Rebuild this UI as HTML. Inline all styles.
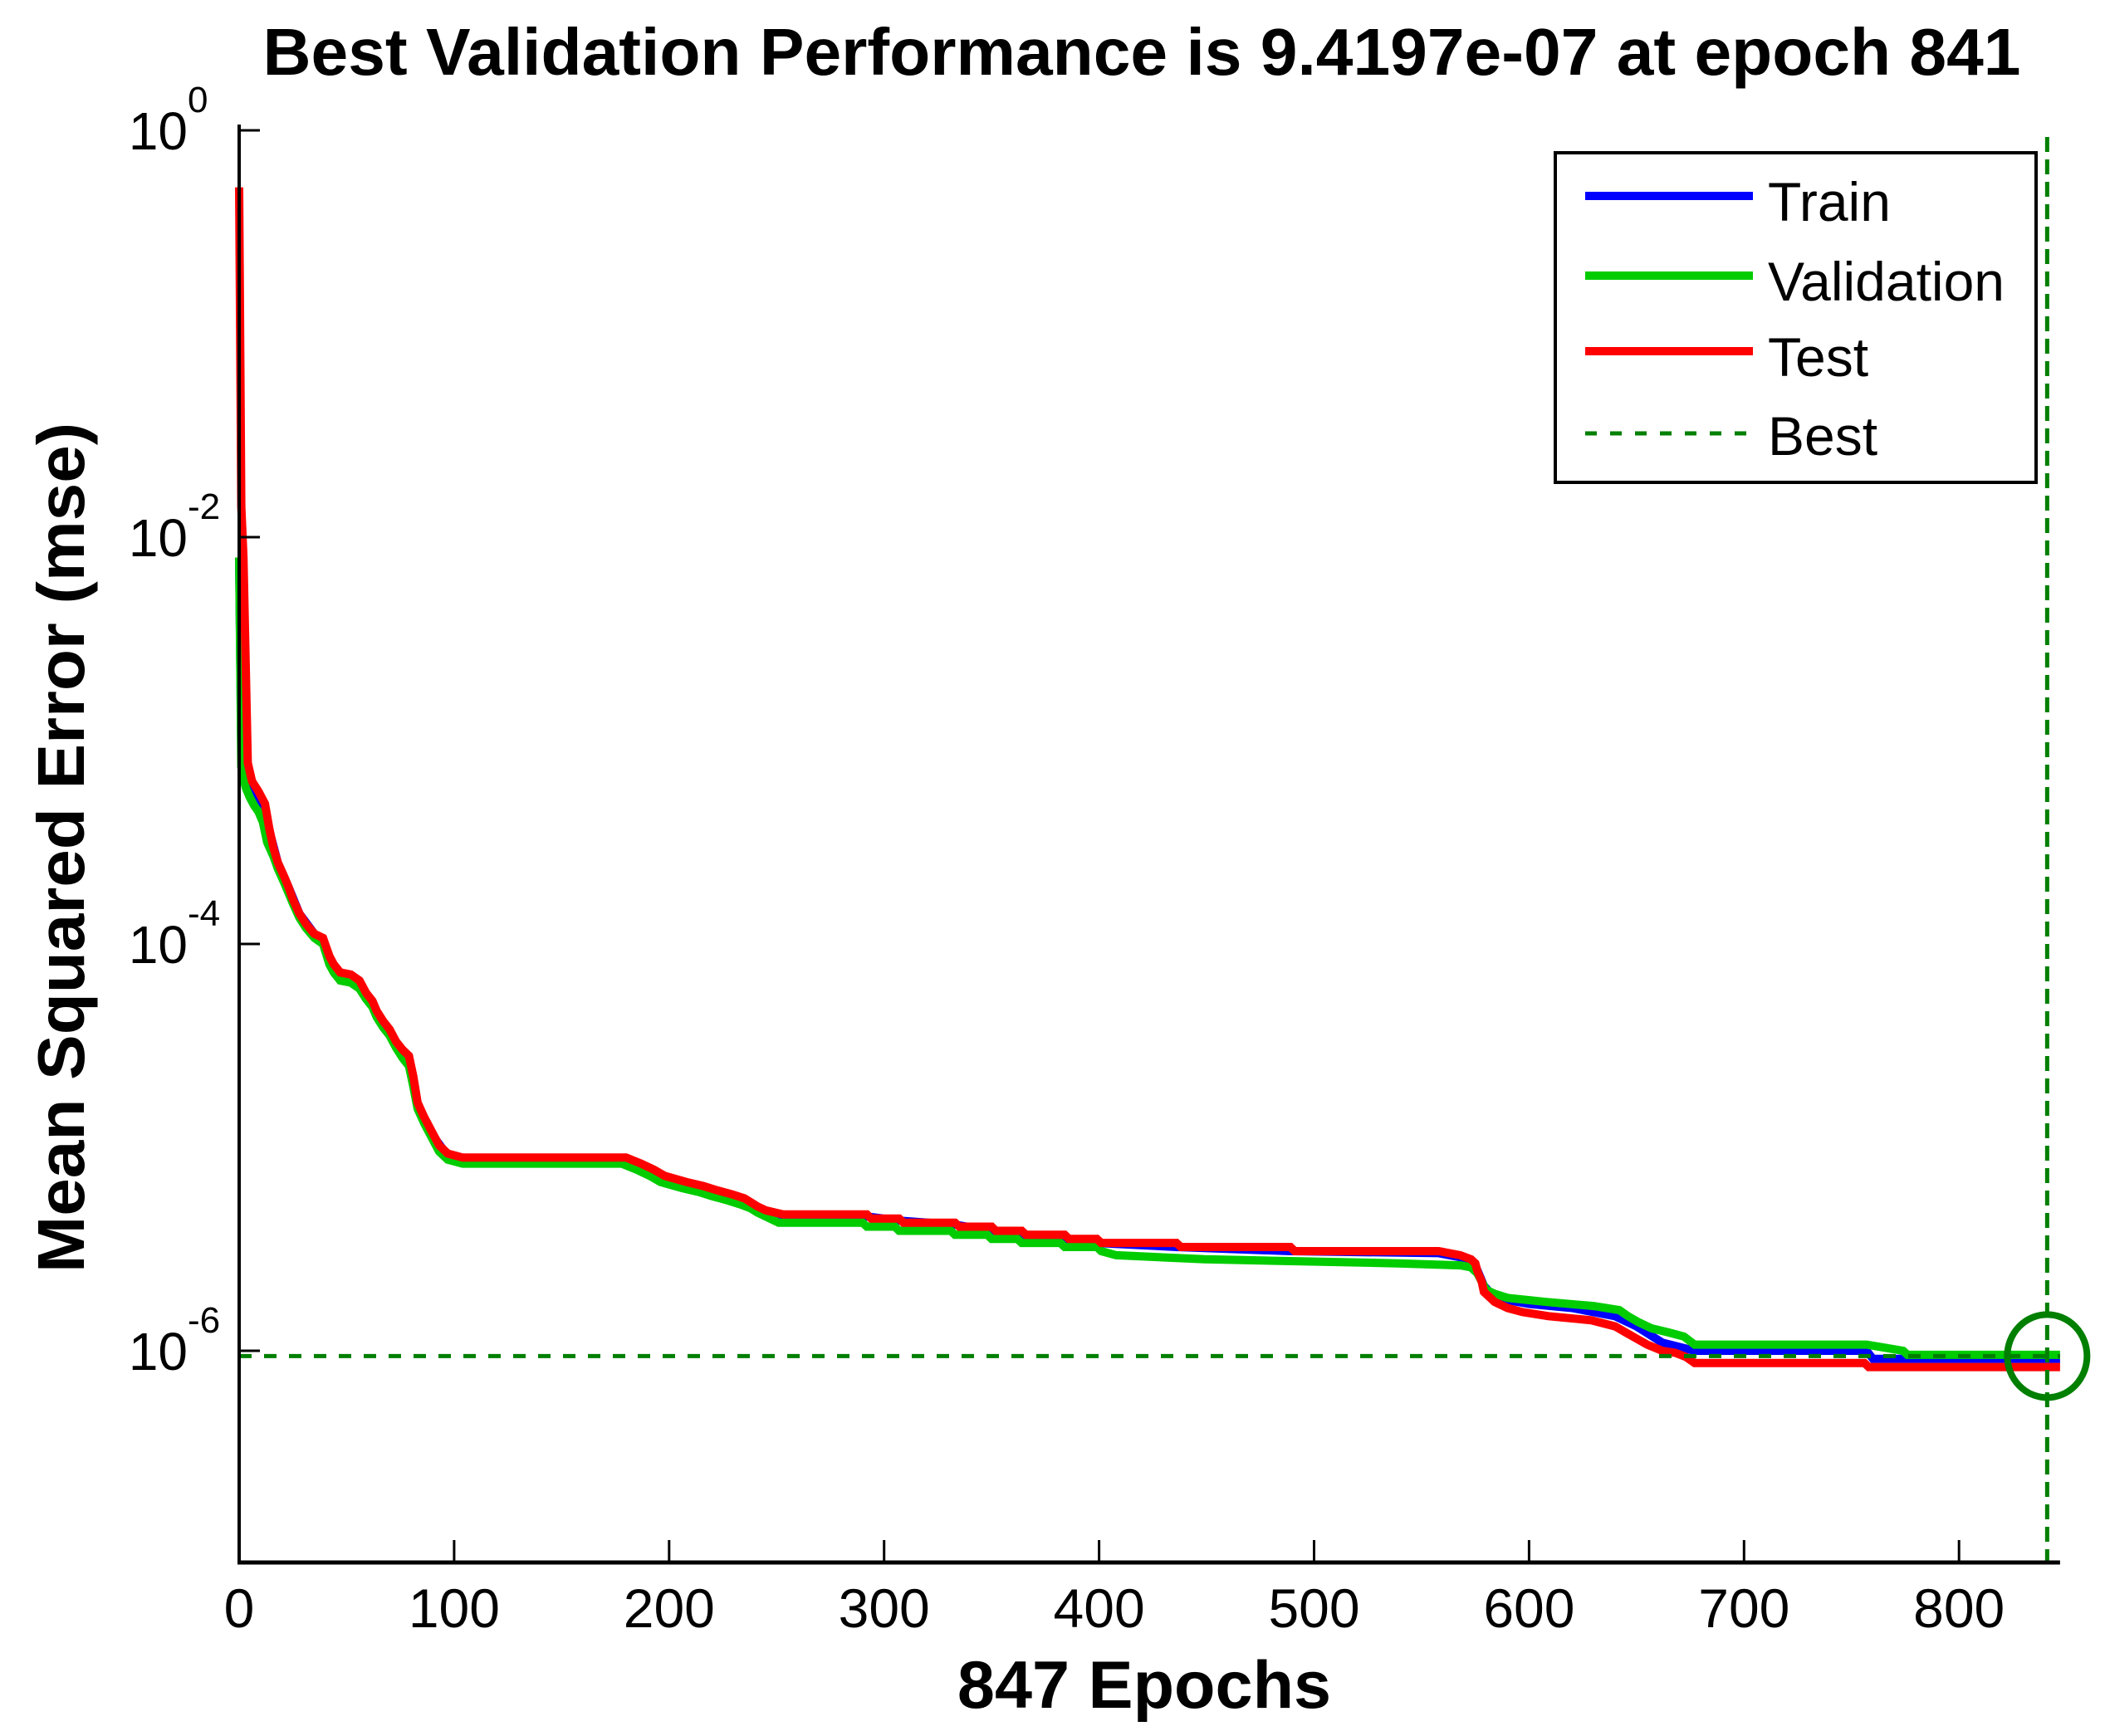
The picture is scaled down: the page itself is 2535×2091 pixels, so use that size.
<!DOCTYPE html>
<html><head><meta charset="utf-8"><style>
html,body{margin:0;padding:0;background:#fff;}
svg{display:block;}
text{font-family:"Liberation Sans",Arial,sans-serif;}
</style></head><body>
<svg id="chart" width="2535" height="2091" viewBox="0 0 2535 2091" xmlns="http://www.w3.org/2000/svg">
<rect width="2535" height="2091" fill="#fff"/>
<text x="1375" y="90" font-size="80" font-weight="bold" text-anchor="middle" textLength="2117" lengthAdjust="spacingAndGlyphs">Best Validation Performance is 9.4197e-07 at epoch 841</text>
<text x="1378" y="2057" font-size="81" font-weight="bold" text-anchor="middle">847 Epochs</text>
<text transform="translate(101,1021) rotate(-90)" font-size="80" font-weight="bold" text-anchor="middle" textLength="1024" lengthAdjust="spacingAndGlyphs">Mean Squared Error  (mse)</text>
<g id="plot"></g>
<g id="axes"></g>
<g id="legend">
  <rect x="1873" y="184" width="579" height="397" fill="#fff" stroke="#000" stroke-width="4"/>
  <line x1="1909" y1="236" x2="2111" y2="236" stroke="#0000ff" stroke-width="10"/>
  <text x="2129" y="266" font-size="66">Train</text>
  <line x1="1909" y1="332" x2="2111" y2="332" stroke="#00cc00" stroke-width="10"/>
  <text x="2129" y="362" font-size="66">Validation</text>
  <line x1="1909" y1="423" x2="2111" y2="423" stroke="#ff0000" stroke-width="10"/>
  <text x="2129" y="453" font-size="66">Test</text>
  <line x1="1909" y1="522" x2="2111" y2="522" stroke="#007f00" stroke-width="5" stroke-dasharray="14,16"/>
  <text x="2129" y="548" font-size="66">Best</text>
</g>
</svg>
<script>
// log10(MSE) per epoch
const testEpochs = [0,1,2,4,6,9,12,14,16,18,21,23,25,28,31,35,39,42,44,47,52,56,59,62,64,67,70,73,76,79,81,83,86,90,93,97,104,180,187,193,198,208,216,222,229,235,238,241,245,253,292,294,307,309,333,335,350,352,364,366,384,386,399,401,436,438,489,491,558,568,573,575,576,578,579,584,590,597,609,629,640,645,650,655,662,668,673,677,756,758,847];
const testLog = [-0.28,-1.85,-2.1,-3.11,-3.2,-3.25,-3.31,-3.43,-3.53,-3.6,-3.67,-3.72,-3.78,-3.85,-3.9,-3.95,-3.97,-4.06,-4.1,-4.14,-4.15,-4.18,-4.24,-4.28,-4.33,-4.38,-4.42,-4.48,-4.52,-4.55,-4.65,-4.78,-4.85,-4.93,-4.99,-5.03,-5.05,-5.05,-5.08,-5.11,-5.14,-5.17,-5.19,-5.21,-5.23,-5.25,-5.27,-5.29,-5.31,-5.33,-5.33,-5.35,-5.35,-5.37,-5.37,-5.39,-5.39,-5.41,-5.41,-5.43,-5.43,-5.45,-5.45,-5.47,-5.47,-5.49,-5.49,-5.51,-5.51,-5.53,-5.55,-5.57,-5.61,-5.66,-5.71,-5.76,-5.79,-5.81,-5.83,-5.85,-5.88,-5.91,-5.94,-5.97,-6.0,-6.01,-6.03,-6.06,-6.06,-6.08,-6.08];
const valEpochs = [0,1,3,5,7,9,11,13,16,18,21,25,28,31,35,39,42,44,47,52,56,59,62,64,67,70,73,76,79,81,83,86,90,93,97,104,178,185,191,196,206,214,220,227,233,238,241,245,251,290,292,305,307,331,333,348,350,362,364,382,384,399,401,408,449,539,568,573,576,578,580,584,590,608,630,642,646,651,657,665,672,677,757,774,776,847];
const valLog = [-2.1,-3.13,-3.23,-3.28,-3.32,-3.35,-3.4,-3.5,-3.57,-3.63,-3.7,-3.8,-3.87,-3.92,-3.97,-4.0,-4.1,-4.14,-4.18,-4.19,-4.22,-4.27,-4.31,-4.36,-4.41,-4.45,-4.51,-4.56,-4.6,-4.7,-4.81,-4.88,-4.96,-5.02,-5.06,-5.08,-5.08,-5.11,-5.14,-5.17,-5.2,-5.22,-5.24,-5.26,-5.28,-5.3,-5.32,-5.34,-5.37,-5.37,-5.39,-5.39,-5.41,-5.41,-5.43,-5.43,-5.45,-5.45,-5.47,-5.47,-5.49,-5.49,-5.51,-5.53,-5.55,-5.57,-5.58,-5.59,-5.62,-5.66,-5.7,-5.72,-5.74,-5.76,-5.78,-5.8,-5.83,-5.86,-5.89,-5.91,-5.93,-5.97,-5.97,-6.0,-6.02,-6.02];
const trainEpochs = [0,1,3,5,8,12,14,18,23,28,35,39,42,47,52,59,64,70,76,79,83,90,97,104,180,198,222,245,253,292,307,333,350,364,384,399,436,489,558,568,575,579,584,600,620,640,650,662,677,757,760,847];
const trainLog = [-2.1,-3.05,-3.17,-3.23,-3.28,-3.33,-3.44,-3.6,-3.72,-3.85,-3.95,-3.98,-4.07,-4.15,-4.16,-4.25,-4.34,-4.43,-4.53,-4.57,-4.79,-4.94,-5.04,-5.06,-5.06,-5.15,-5.22,-5.32,-5.34,-5.34,-5.36,-5.38,-5.41,-5.43,-5.45,-5.47,-5.49,-5.51,-5.52,-5.54,-5.58,-5.68,-5.74,-5.77,-5.79,-5.83,-5.88,-5.96,-6.0,-6.0,-6.04,-6.04];
const bestEpoch = 841;
const bestValue = 9.4197e-7;
const xTicks = [0,100,200,300,400,500,600,700,800];
const yTickExps = [0,-2,-4,-6];
const maxEpoch = 847;

const NS = 'http://www.w3.org/2000/svg';
const X0 = 288, PX_PER_EPOCH = 2.589;
const Y0 = 157, PX_PER_DECADE = 245;
const YBOT = 1882, YTOP = 150;
function xs(e){ return X0 + e * PX_PER_EPOCH; }
function ys(lg){ return Y0 - lg * PX_PER_DECADE; }
function mk(tag, attrs, parent){
  const el = document.createElementNS(NS, tag);
  for (const k in attrs) el.setAttribute(k, attrs[k]);
  parent.appendChild(el);
  return el;
}
const plot = document.getElementById('plot');
const axes = document.getElementById('axes');
const xEnd = xs(maxEpoch);

function series(ep, lg, color, name){
  let d = '';
  for (let i = 0; i < ep.length; i++) d += (i ? 'L' : 'M') + xs(ep[i]).toFixed(1) + ' ' + ys(lg[i]).toFixed(1);
  const p = mk('path', {d: d, fill: 'none', stroke: color, 'stroke-width': 10, 'stroke-linejoin': 'miter'}, plot);
  
  
}
series(trainEpochs, trainLog, '#0000ff', 'train-line');
series(valEpochs, valLog, '#00cc00', 'validation-line');
series(testEpochs, testLog, '#ff0000', 'test-line');

const bx = xs(bestEpoch), by = ys(Math.log10(bestValue));
const hl = mk('line', {x1: X0, y1: by, x2: xEnd, y2: by, stroke: '#007f00', 'stroke-width': 5, 'stroke-dasharray': '15,15'}, plot);


const vl = mk('line', {x1: bx, y1: 165, x2: bx, y2: YBOT, stroke: '#007f00', 'stroke-width': 5, 'stroke-dasharray': '18,9'}, plot);


const circ = mk('ellipse', {cx: bx, cy: by, rx: 48, ry: 50, fill: 'none', stroke: '#007f00', 'stroke-width': 8}, plot);



// axes
const ya = mk('line', {x1: X0, y1: YTOP, x2: X0, y2: YBOT + 2, stroke: '#000', 'stroke-width': 4}, axes);


const xa = mk('line', {x1: X0 - 2, y1: YBOT, x2: xEnd, y2: YBOT, stroke: '#000', 'stroke-width': 5}, axes);



xTicks.forEach(function(t){
  const x = xs(t);
  const tk = mk('line', {x1: x, y1: YBOT, x2: x, y2: YBOT - 27, stroke: '#000', 'stroke-width': 3}, axes);
  
  
  const lb = mk('text', {x: x, y: 1960, 'font-size': 66, 'text-anchor': 'middle'}, axes);
  
  
  lb.textContent = String(t);
});
yTickExps.forEach(function(e){
  const y = ys(e);
  const tk = mk('line', {x1: X0, y1: y, x2: X0 + 25, y2: y, stroke: '#000', 'stroke-width': 3}, axes);
  
  
  const lb = mk('text', {x: 226, y: y + 23, 'font-size': 64, 'text-anchor': 'end'}, axes);
  
  
  lb.textContent = '10';
  const sp = mk('text', {x: 226, y: y - 22, 'font-size': 44, 'text-anchor': 'start'}, axes);
  
  
  sp.textContent = String(e);
});
</script>
</body></html>
